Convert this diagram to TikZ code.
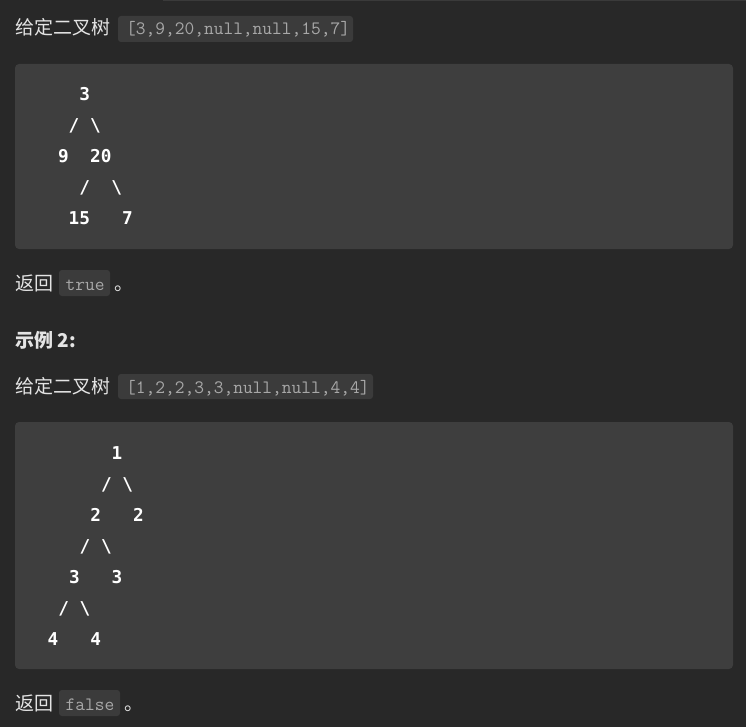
\documentclass[tikz,border=0pt]{standalone}
\usepackage{fontspec}
\newfontfamily\cjk{Noto Sans CJK SC}
\newfontfamily\treefont{DejaVu Sans Mono}
\definecolor{bg}{HTML}{282828}
\definecolor{blockbg}{HTML}{3E3E3E}
\definecolor{inlinebg}{HTML}{3B3B3B}
\definecolor{bodytxt}{HTML}{E4E4E4}
\definecolor{codetxt}{HTML}{A8A8A8}
\definecolor{topline}{HTML}{3A3A3A}
\tikzset{
  body/.style={inner sep=0pt, anchor=base west, text=bodytxt, font=\cjk\fontsize{19}{22}\selectfont},
  heading/.style={body, font=\cjk\bfseries\fontsize{19}{22}\selectfont},
  inline/.style={inner sep=0pt, anchor=base west, text=codetxt, font=\ttfamily\fontsize{18.9}{22}\selectfont},
  tree/.style={inner sep=0pt, anchor=base west, text=white, font=\treefont\bfseries\fontsize{17.7}{22}\selectfont},
  codeblock/.style={fill=blockbg, rounded corners=4pt},
  inlinebox/.style={fill=inlinebg, rounded corners=3pt}
}
\begin{document}
\begin{tikzpicture}[x=1pt,y=-1pt]
\fill[bg] (0,0) rectangle (746,727);
\useasboundingbox (0,0) rectangle (746,727);
\fill[topline] (163,0) rectangle (746,1.5);
% line 1
\node[body] (l1) at (15,35) {给定二叉树};
\fill[inlinebox] (118,16) rectangle (353,42);
\node[inline] (c1) at (126,35) {[3,9,20,null,null,15,7]};
% block 1
\fill[codeblock] (15,64) rectangle (733,249);
\node[tree] (a1) at (79.2,101) {3};
\node[tree] (a2) at (68.5,132) {/};
\node[tree] (a3) at (89.9,132) {\textbackslash};
\node[tree] (a4) at (57.8,163) {9};
\node[tree] (a5) at (89.9,163) {20};
\node[tree] (a6) at (79.2,194) {/};
\node[tree] (a7) at (111.2,194) {\textbackslash};
\node[tree] (a8) at (68.5,225) {15};
\node[tree] (a9) at (121.9,225) {7};
% return true
\node[body] (r1) at (15,290) {返回};
\fill[inlinebox] (59,270) rectangle (110,296);
\node[inline] (t1) at (65.5,290) {true};
\node[body] (p1) at (114,290) {。};
% heading
\node[heading] (h2) at (15,347) {示例 2:};
% line 3
\node[body] (l2) at (15,393) {给定二叉树};
\fill[inlinebox] (118,374) rectangle (373,399);
\node[inline] (c2) at (126,393) {[1,2,2,3,3,null,null,4,4]};
% block 2
\fill[codeblock] (15,422) rectangle (733,669);
\node[tree] (b1) at (111.5,459) {1};
\node[tree] (b2) at (100.9,490) {/};
\node[tree] (b3) at (122.2,490) {\textbackslash};
\node[tree] (b4) at (90.2,521) {2};
\node[tree] (b5) at (132.9,521) {2};
\node[tree] (b6) at (79.5,552) {/};
\node[tree] (b7) at (100.9,552) {\textbackslash};
\node[tree] (b8) at (68.8,583) {3};
\node[tree] (b9) at (111.5,583) {3};
\node[tree] (b10) at (58.2,614) {/};
\node[tree] (b11) at (79.5,614) {\textbackslash};
\node[tree] (b12) at (47.5,645) {4};
\node[tree] (b13) at (90.2,645) {4};
% return false
\node[body] (r2) at (15,710) {返回};
\fill[inlinebox] (59,690) rectangle (120,716);
\node[inline] (t2) at (65.5,710) {false};
\node[body] (p2) at (124,710) {。};
\end{tikzpicture}
\end{document}
